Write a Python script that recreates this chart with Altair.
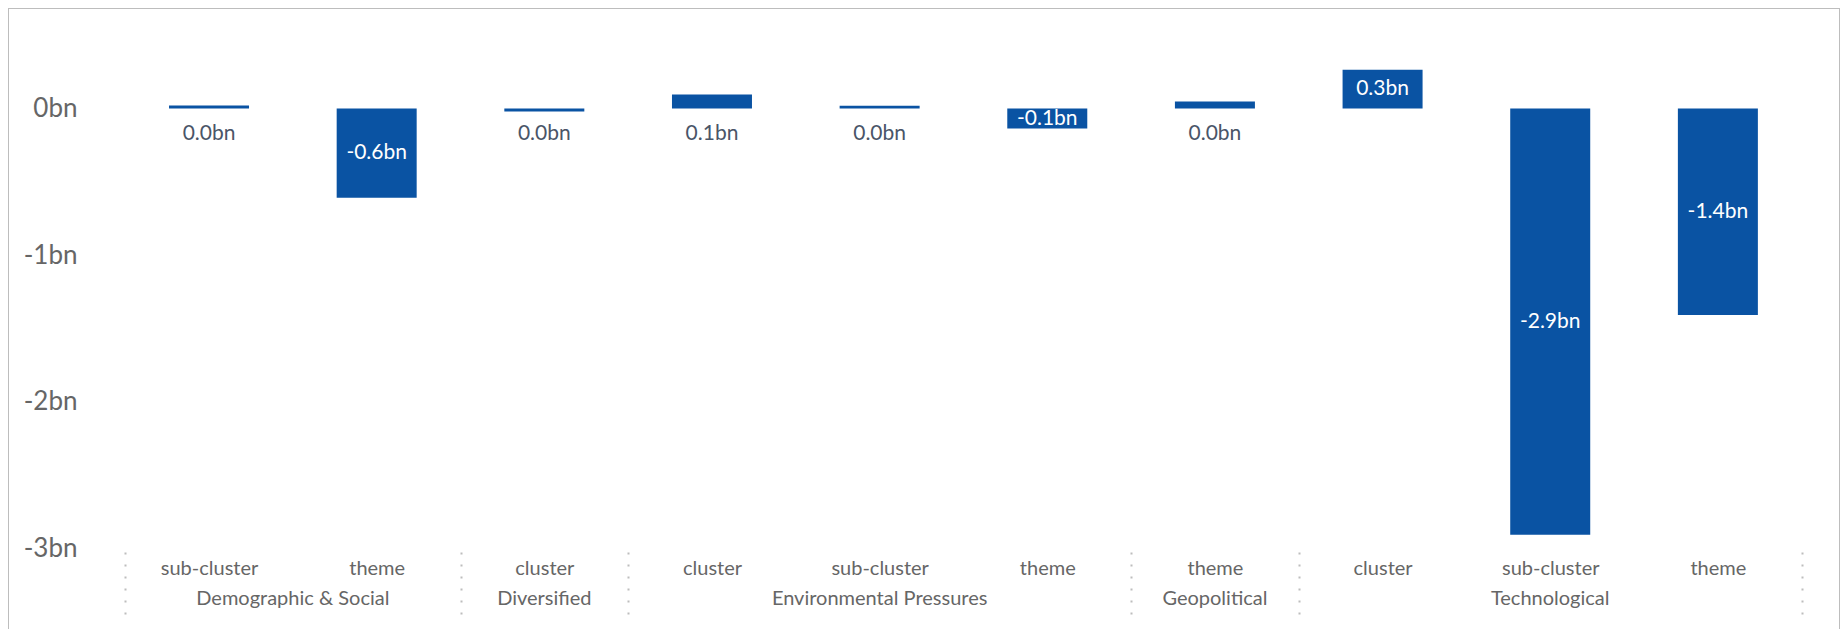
import json
import altair as alt
import pandas as pd

groups = ["Demographic & Social", "Demographic & Social", "Diversified",
          "Environmental Pressures", "Environmental Pressures", "Environmental Pressures",
          "Geopolitical", "Technological", "Technological", "Technological"]
types = ["sub-cluster", "theme", "cluster", "cluster", "sub-cluster", "theme",
         "theme", "cluster", "sub-cluster", "theme"]
values = [0.02, -0.61, -0.02, 0.095, 0.018, -0.137, 0.047, 0.265, -2.91, -1.41]
y_ticks = [0, -1, -2, -3]

FONT = "Lato"
BLUE = "#0a53a3"
W, H = 1832, 630

df = pd.DataFrame({"group": groups, "type": types, "value": values})
df["idx"] = range(len(df))
df["label"] = [f"{round(v, 1) + 0.0:.1f}bn" for v in df["value"]]
df["inside"] = df["value"].abs() >= 0.12

grp = df.groupby("group", sort=False)["idx"].agg(["mean", "max"]).reset_index()
boundaries = [-0.5] + [float(m) + 0.5 for m in grp["max"]]

x_scale = alt.Scale(domain=[-0.5, len(df) - 0.5], range=[112.2, 1798.7], nice=False, zero=False)
y_scale = alt.Scale(domain=[-3, 0.5], range=[540, 27.25], nice=False, zero=False)

tick_vals = sorted(list(df["idx"].astype(float)) + boundaries)
label_expr = f"{json.dumps(types)}[datum.value] || ''"

x_enc = alt.X(
    "idx:Q", scale=x_scale,
    axis=alt.Axis(
        values=tick_vals, labelExpr=label_expr, title=None, grid=False, domain=False,
        orient="bottom", offset=-(H - 544), tickSize=63, tickColor="#bdbdbd",
        tickWidth=2, tickDash=[2, 10],
        tickOpacity={"condition": {"test": "datum.value % 1 != 0", "value": 1}, "value": 0},
        labelPadding=-57, labelFont=FONT, labelFontSize=20, labelColor="#666666",
        labelFlush=False, labelOverlap=False,
    ),
)
y_enc = alt.Y(
    "value:Q", scale=y_scale,
    axis=alt.Axis(
        values=y_ticks, labelExpr="datum.value + 'bn'", title=None, grid=False,
        domain=False, ticks=False, orient="left", offset=-69, labelPadding=0,
        labelFont=FONT, labelFontSize=26, labelColor="#666666", labelFlush=False,
    ),
)

base = alt.Chart(df)

bars = base.mark_bar(width=80, color=BLUE).encode(x=x_enc, y=y_enc)

inside = base.transform_filter("datum.inside").transform_calculate(
    mid="datum.value / 2"
).mark_text(font=FONT, fontSize=21, color="white", baseline="middle").encode(
    x=alt.X("idx:Q", scale=x_scale),
    y=alt.Y("mid:Q", scale=y_scale),
    text="label:N",
)

outside = base.transform_filter("!datum.inside").mark_text(
    font=FONT, fontSize=21, color="#4a5568", baseline="middle", dy=25
).encode(
    x=alt.X("idx:Q", scale=x_scale),
    y=alt.datum(0, scale=y_scale),
    text="label:N",
)

group_labels = alt.Chart(grp).mark_text(
    font=FONT, fontSize=20, color="#666666", baseline="middle", dy=51
).encode(
    x=alt.X("mean:Q", scale=x_scale),
    y=alt.datum(-3, scale=y_scale),
    text="group:N",
)

chart = alt.layer(bars, inside, outside, group_labels).properties(
    width=W, height=H, autosize=alt.AutoSizeParams(type="none"), padding=0,
).configure_view(stroke="#bdbdbd", strokeWidth=2)

chart.save("out.html", embed_options={"renderer": "svg", "actions": False})
